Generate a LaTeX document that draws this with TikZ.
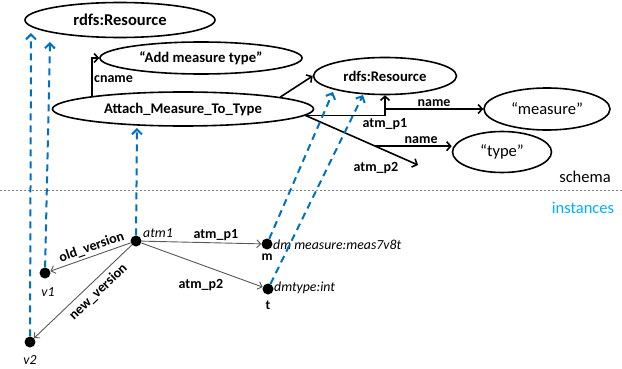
\documentclass[tikz,border=0pt]{standalone}
\usepackage{fontspec}
\setmainfont{Carlito}
\usetikzlibrary{shapes.geometric,arrows.meta,calc}
\definecolor{linkblue}{HTML}{0070C0}
\definecolor{instcyan}{HTML}{00B0F0}
\definecolor{edgegray}{HTML}{595959}
\newcommand{\myfs}[1]{\fontsize{#1}{#1}\selectfont}
\begin{document}
\begin{tikzpicture}[x=1pt,y=-1pt,
  ell/.style={draw, ellipse, line width=1.6pt, inner sep=0pt, font=\bfseries\myfs{14.7}},
  ellreg/.style={ell, font=\myfs{16.5}},
  schemaedge/.style={line width=1.6pt, -{Straight Barb[length=4pt,width=9pt]}},
  elabel/.style={font=\bfseries\myfs{14}, inner sep=1.5pt},
  inst/.style={circle, fill=black, inner sep=0pt, minimum size=11pt},
  ilabel/.style={font=\itshape\myfs{13.8}, inner sep=1pt},
  blabel/.style={font=\bfseries\myfs{13.5}, inner sep=1pt},
  instedge/.style={draw=edgegray, line width=0.9pt, -{Straight Barb[length=4pt,width=8pt]}},
  typeof/.style={draw=linkblue, line width=2pt, dash pattern=on 7pt off 5pt, -{Straight Barb[length=5pt,width=10pt]}},
  sepline/.style={draw=gray, line width=0.8pt, dash pattern=on 2pt off 2pt}
]
\useasboundingbox (0,0) rectangle (622,369);

% schema nodes
\node[ell, minimum width=190, minimum height=35, font=\bfseries\myfs{16.5}] (r1) at (120,20) {rdfs:Resource};
\node[ell, minimum width=202, minimum height=32] (add) at (201,58) {“Add measure type”};
\node[ell, minimum width=261, minimum height=34] (attach) at (183,109) {Attach\_Measure\_To\_Type};
\node[ell, minimum width=143, minimum height=37] (r2) at (385,76) {rdfs:Resource};
\node[ellreg, minimum width=126, minimum height=42] (meas) at (547,109) {“measure”};
\node[ellreg, minimum width=99, minimum height=41] (typ) at (502,152) {“type”};

% schema edges
\draw[schemaedge] (attach.172.6) |- (add.west) node[pos=0.22, right, elabel] (lcname) {cname};
\draw[schemaedge] (attach.7.3) -- (r2.west);
\draw[schemaedge] (attach.-3) -| (r2.south) node[pos=0.5, below, elabel, yshift=-1pt] (lp1) {atm\_p1};
\draw[schemaedge] (r2.south |- meas.west) -- (meas.west) node[midway, above, elabel] (lname1) {name};
\coordinate (p2end) at (418,165);
\draw[schemaedge] (attach.-3) -- (p2end);
\node[elabel] (lp2) at (376,168) {atm\_p2};
\coordinate (nm2) at ($(attach.-3)!0.62!(p2end)$);
\draw[schemaedge] (nm2) -- (nm2 -| typ.west) node[pos=0.6, above, elabel] (lname2) {name};

% separator
\coordinate (sepL) at (0,190);
\coordinate (sepR) at (622,190);
\draw[sepline] (sepL) -- (sepR);
\node[font=\myfs{16.5}, text=black] (lschema) at (585,177) {schema};
\node[font=\myfs{16.5}, text=instcyan] (linst) at (583,208) {instances};

% instance nodes
\node[inst] (atm) at (136,241) {};
\node[ilabel, anchor=west] (atmlab) at (142,233) {atm1};
\node[inst] (v1) at (45,273) {};
\node[ilabel] (v1lab) at (48,292) {v1};
\node[inst] (v2) at (30,342) {};
\node[ilabel] (v2lab) at (30,360) {v2};
\node[inst] (m) at (267,244) {};
\node[blabel] (mlab) at (267,257) {m};
\node[ilabel, anchor=west] (mval) at (272,245) {dm measure:meas7v8t};
\node[inst] (t) at (268,289) {};
\node[blabel] (tlab) at (268,305) {t};
\node[ilabel, anchor=west] (tval) at (273,288) {dmtype:int};

% instance edges
\draw[instedge] (atm) -- (v1) node[pos=0.45, sloped, above=1pt, elabel] (lold) {old\_version};
\draw[instedge] (atm) -- (v2) node[pos=0.42, sloped, below=3pt, elabel] (lnew) {new\_version};
\draw[instedge] (atm) -- (m) node[pos=0.62, above, elabel] (lip1) {atm\_p1};
\draw[instedge] (atm) -- (t);
\node[elabel] (lip2) at (201,285) {atm\_p2};

% typeof links
\coordinate (v2top) at (31,33);
\coordinate (v1top) at (50,42);
\coordinate (atmtop) at (137,128);
\coordinate (mtop) at (333,92);
\coordinate (ttop) at (363,95);
\draw[typeof] (v2) -- (v2top);
\draw[typeof] (v1) -- (v1top);
\draw[typeof] (atm) -- (atmtop);
\draw[typeof] (m) -- (mtop);
\draw[typeof] (t) -- (ttop);
\end{tikzpicture}
\end{document}
